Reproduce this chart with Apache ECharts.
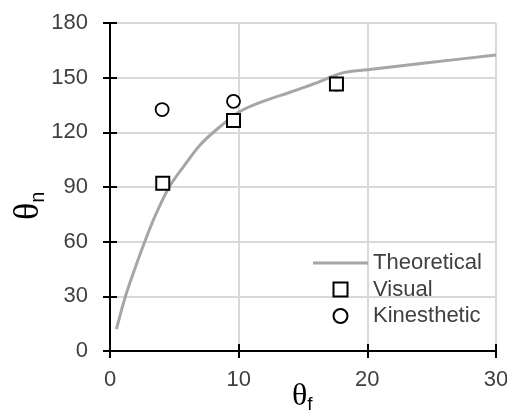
<!DOCTYPE html>
<html>
<head>
<meta charset="utf-8">
<script src="https://cdn.jsdelivr.net/npm/echarts@6/dist/echarts.min.js"></script>
<style>html,body{margin:0;padding:0;background:#fff;}#c{width:507px;height:415px;}</style>
</head>
<body>
<div id="c"></div>
<script>
const theoX = [0.5, 1.2, 2, 2.7, 3.5, 4.6, 5.8, 7, 8.2, 10, 11, 12.5, 14, 16, 18, 20, 25, 30];
const theoY = [12, 30, 46.5, 60, 74, 90, 102, 113, 121, 131, 134.5, 138.5, 142, 147, 152.5, 154.3, 158.4, 162.5];
const visualX = [4.1, 9.6, 17.6];
const visualY = [92, 126.5, 146.5];
const kinX = [4.05, 9.6, 17.6];
const kinY = [132.5, 137, 146.5];
const xTicks = [0, 10, 20, 30];
const yTicks = [0, 30, 60, 90, 120, 150, 180];
const seriesNames = ['Theoretical', 'Visual', 'Kinesthetic'];

const zip = (a, b) => a.map((v, i) => [v, b[i]]);
const font = 'Liberation Sans, Arial, sans-serif';
const txt = '#404040';

const chart = echarts.init(document.getElementById('c'));
chart.setOption({
  animation: false,
  grid: { left: 110, right: 11, top: 23, bottom: 64, containLabel: false, outerBoundsMode: 'none' },
  xAxis: [
    { type: 'value', min: xTicks[0], max: xTicks[xTicks.length - 1], interval: 10, position: 'bottom',
      axisLine: { show: true, onZero: false, lineStyle: { color: '#000', width: 2 } },
      axisTick: { show: true, inside: false, length: 7, lineStyle: { color: '#000', width: 2 } },
      axisLabel: { margin: 18, fontSize: 22, color: txt, fontFamily: font },
      splitLine: { show: true, lineStyle: { color: '#d9d9d9', width: 2 } } },
    { type: 'value', min: xTicks[0], max: xTicks[xTicks.length - 1], interval: 10, position: 'bottom',
      axisLine: { show: false }, axisLabel: { show: false }, splitLine: { show: false },
      axisTick: { show: true, inside: true, length: 7, lineStyle: { color: '#000', width: 2 } } }
  ],
  yAxis: [
    { type: 'value', min: yTicks[0], max: yTicks[yTicks.length - 1], interval: 30, position: 'left',
      axisLine: { show: true, onZero: false, lineStyle: { color: '#000', width: 2 } },
      axisTick: { show: true, inside: false, length: 7, lineStyle: { color: '#000', width: 2 } },
      axisLabel: { margin: 22, fontSize: 22, color: txt, fontFamily: font },
      splitLine: { show: true, lineStyle: { color: '#d9d9d9', width: 2 } } },
    { type: 'value', min: yTicks[0], max: yTicks[yTicks.length - 1], interval: 30, position: 'left', offset: 0,
      axisLine: { show: false }, axisLabel: { show: false }, splitLine: { show: false },
      axisTick: { show: true, inside: true, length: 7, lineStyle: { color: '#000', width: 2 } } }
  ],
  legend: {
    orient: 'vertical', left: 308, top: 247, itemWidth: 55, itemHeight: 14, itemGap: 4.5,
    symbolKeepAspect: true,
    textStyle: { fontSize: 22, lineHeight: 22, color: txt, fontFamily: font },
    data: [
      { name: seriesNames[0], icon: 'path://M0,0H55V3H0Z', itemStyle: { color: '#a6a6a6', borderWidth: 0 } },
      { name: seriesNames[1], icon: 'path://M0,0H10V10H0Z', itemStyle: { color: '#fff', borderColor: '#000', borderWidth: 2 } },
      { name: seriesNames[2], icon: 'circle', itemStyle: { color: '#fff', borderColor: '#000', borderWidth: 2 } }
    ]
  },
  graphic: [
    { type: 'text', x: 292, y: 379, style: {
        rich: { t: { fontFamily: 'Liberation Serif, serif', fontSize: 32, fill: '#000' },
                s: { fontFamily: font, fontSize: 19, fill: '#000', padding: [16, 0, 0, 0] } },
        text: '{t|θ}{s|f}' } },
    { type: 'text', x: 10, y: 220, rotation: Math.PI / 2, style: {
        rich: { t: { fontFamily: 'Liberation Serif, serif', fontSize: 36, fill: '#000' },
                s: { fontFamily: font, fontSize: 20, fill: '#000', padding: [18, 0, 0, 0] } },
        text: '{t|θ}{s|n}' } }
  ],
  series: [
    { name: seriesNames[0], type: 'line', data: zip(theoX, theoY), smooth: 0.3, symbol: 'none', showSymbol: false,
      lineStyle: { color: '#a6a6a6', width: 3 }, itemStyle: { color: '#a6a6a6' }, z: 2 },
    { name: seriesNames[1], type: 'scatter', data: zip(visualX, visualY), symbol: 'rect', symbolSize: 13,
      itemStyle: { color: '#fff', borderColor: '#000', borderWidth: 2, opacity: 1 }, z: 4 },
    { name: seriesNames[2], type: 'scatter', data: zip(kinX, kinY), symbol: 'circle', symbolSize: 13,
      itemStyle: { color: '#fff', borderColor: '#000', borderWidth: 1.8, opacity: 1 }, z: 3 }
  ]
});
</script>
</body>
</html>
